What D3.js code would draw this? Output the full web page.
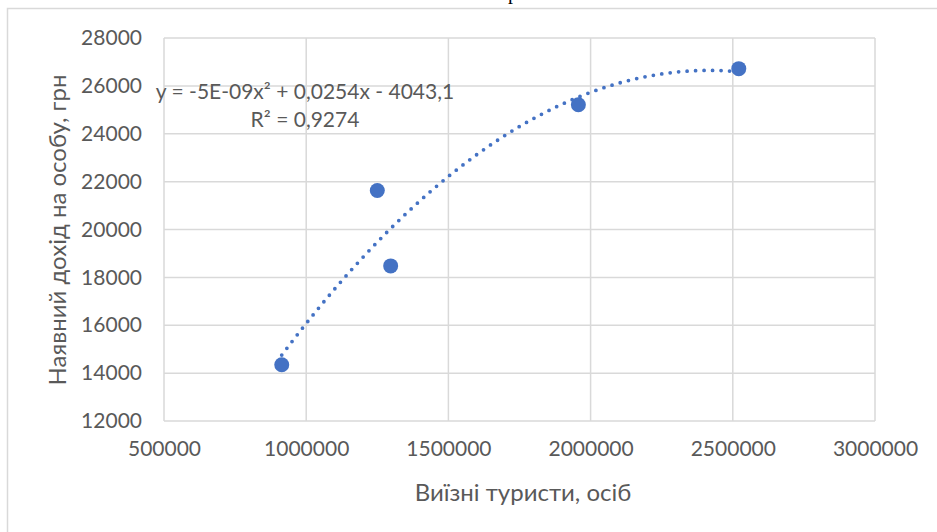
<!DOCTYPE html>
<html>
<head>
<meta charset="utf-8">
<title>Scatter with trendline</title>
<style>
  body { margin: 0; background: #fff; }
  text { font-family: Lato, "Open Sans", sans-serif; fill: #595959; }
</style>
</head>
<body>
<script src="https://cdn.jsdelivr.net/npm/d3@7/dist/d3.min.js"></script>
<script>
// data
const tourists = [914000, 1250000, 1297000, 1957000, 2521000];
const income   = [14350, 21630, 18480, 25210, 26720];
const xTicks = [500000, 1000000, 1500000, 2000000, 2500000, 3000000];
const yTicks = [12000, 14000, 16000, 18000, 20000, 22000, 24000, 26000, 28000];
const eqLines = ["y = -5E-09x² + 0,0254x - 4043,1", "R² = 0,9274"];

const w = 937, h = 532;
const margin = {top: 38, right: 62, bottom: 111, left: 164};
const inner_w = w - margin.left - margin.right;
const inner_h = h - margin.top - margin.bottom;
const blue = "#4472C4";

const svg = d3.select("body").append("svg")
  .attr("width", w).attr("height", h);

// chart frame (only left + top show in the picture)
svg.append("rect")
  .attr("x", 7.5).attr("y", 8.5)
  .attr("width", w + 10).attr("height", h + 10)
  .attr("fill", "none").attr("stroke", "#d9d9d9").attr("stroke-width", 1.5);

// cut-off document text above the chart
svg.append("text").attr("x", 508).attr("y", -1)
  .style("font-family", "Liberation Serif").style("fill", "#000")
  .attr("font-size", 20).text("р");

const g = svg.append("g").attr("transform", `translate(${margin.left},${margin.top})`);

const x = d3.scaleLinear().domain([500000, 3000000]).range([0, inner_w]);
const y = d3.scaleLinear().domain([12000, 28000]).range([inner_h, 0]);

// grid
g.selectAll("line.vg").data(xTicks).enter().append("line")
  .attr("x1", d => x(d)).attr("x2", d => x(d))
  .attr("y1", 0).attr("y2", inner_h)
  .attr("stroke", "#d9d9d9").attr("stroke-width", 1.5);
g.selectAll("line.hg").data(yTicks).enter().append("line")
  .attr("x1", 0).attr("x2", inner_w)
  .attr("y1", d => y(d)).attr("y2", d => y(d))
  .attr("stroke", "#d9d9d9").attr("stroke-width", 1.5);

// axes (labels only)
const xAxis = g.append("g").attr("transform", `translate(0,${inner_h})`)
  .call(d3.axisBottom(x).tickValues(xTicks).tickFormat(d3.format("d")).tickSize(0).tickPadding(20));
const yAxis = g.append("g")
  .call(d3.axisLeft(y).tickValues(yTicks).tickFormat(d3.format("d")).tickSize(0).tickPadding(22));
[xAxis, yAxis].forEach(a => {
  a.select(".domain").remove();
  a.selectAll("text").attr("font-size", 21).style("font-family", "Lato, sans-serif").attr("fill", "#595959");
});

// polynomial trendline (order 2, least squares)
function polyfit2(xs, ys) {
  const n = xs.length;
  let s = [0, 0, 0, 0, 0], t = [0, 0, 0];
  for (let i = 0; i < n; i++) {
    const xi = xs[i] / 1e6;
    for (let k = 0; k < 5; k++) s[k] += Math.pow(xi, k);
    for (let k = 0; k < 3; k++) t[k] += ys[i] * Math.pow(xi, k);
  }
  const A = [[s[0], s[1], s[2], t[0]], [s[1], s[2], s[3], t[1]], [s[2], s[3], s[4], t[2]]];
  for (let c = 0; c < 3; c++) {
    for (let r = c + 1; r < 3; r++) {
      const f = A[r][c] / A[c][c];
      for (let k = c; k < 4; k++) A[r][k] -= f * A[c][k];
    }
  }
  const b = [0, 0, 0];
  for (let r = 2; r >= 0; r--) {
    let v = A[r][3];
    for (let k = r + 1; k < 3; k++) v -= A[r][k] * b[k];
    b[r] = v / A[r][r];
  }
  return xv => { const q = xv / 1e6; return b[0] + b[1] * q + b[2] * q * q; };
}
const fit = polyfit2(tourists, income);
const x0 = d3.min(tourists), x1 = d3.max(tourists);
const trend = d3.range(0, 101).map(i => x0 + (x1 - x0) * i / 100);
g.append("path")
  .datum(trend)
  .attr("d", d3.line().x(d => x(d)).y(d => y(fit(d))))
  .attr("fill", "none").attr("stroke", blue)
  .attr("stroke-width", 3.8).attr("stroke-linecap", "round")
  .attr("stroke-dasharray", "0 8.5");

// points
g.selectAll("circle").data(tourists).enter().append("circle")
  .attr("cx", d => x(d)).attr("cy", (d, i) => y(income[i]))
  .attr("r", 7.5).attr("fill", blue);

// equation label
svg.selectAll("text.eq").data(eqLines).enter().append("text")
  .attr("class", "eq")
  .attr("x", 305).attr("y", (d, i) => 99 + i * 28)
  .attr("text-anchor", "middle").attr("font-size", 21)
  .text(d => d);

// axis titles
svg.append("text").attr("x", 523).attr("y", 501)
  .attr("text-anchor", "middle").attr("font-size", 24)
  .text("Виїзні туристи, осіб");
svg.append("text")
  .attr("transform", "translate(66,230) rotate(-90)")
  .attr("text-anchor", "middle").attr("font-size", 24)
  .text("Наявний дохід на особу, грн");
</script>
</body>
</html>
